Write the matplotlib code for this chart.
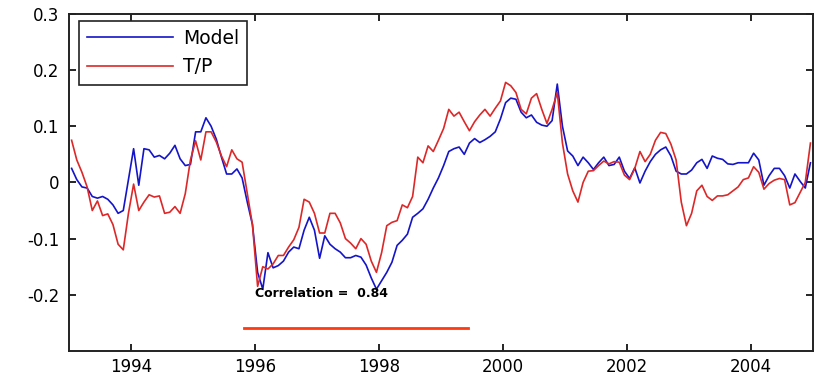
import matplotlib
matplotlib.use("Agg")
import matplotlib.pyplot as plt
import numpy as np

plt.rcParams['font.family'] = ['DejaVu Sans']

# monthly time axis (mid-month), Jan 1993 .. Dec 2004
months = np.arange(144)
time = 1993 + (months + 0.5) / 12.0

model = [
    0.025, 0.005, -0.008, -0.010, -0.025, -0.028, -0.025, -0.030, -0.040, -0.055,
    -0.050, 0.005, 0.060, -0.005, 0.060, 0.058, 0.045, 0.048, 0.042, 0.052,
    0.066, 0.042, 0.030, 0.032, 0.090, 0.090, 0.115, 0.100, 0.077, 0.045,
    0.015, 0.015, 0.024, 0.008, -0.035, -0.075, -0.160, -0.190, -0.125, -0.152,
    -0.148, -0.140, -0.124, -0.115, -0.118, -0.085, -0.062, -0.085, -0.135, -0.095,
    -0.110, -0.118, -0.124, -0.134, -0.134, -0.130, -0.133, -0.147, -0.170, -0.190,
    -0.175, -0.160, -0.142, -0.112, -0.103, -0.092, -0.062, -0.055, -0.047, -0.030,
    -0.010, 0.008, 0.030, 0.055, 0.060, 0.063, 0.050, 0.070, 0.078, 0.071,
    0.076, 0.082, 0.090, 0.113, 0.142, 0.150, 0.148, 0.125, 0.115, 0.120,
    0.107, 0.102, 0.100, 0.110, 0.175, 0.100, 0.056, 0.047, 0.030, 0.045,
    0.035, 0.023, 0.035, 0.045, 0.030, 0.032, 0.045, 0.020, 0.007, 0.026,
    -0.001, 0.020, 0.037, 0.050, 0.058, 0.063, 0.047, 0.020, 0.015, 0.015,
    0.022, 0.035, 0.041, 0.025, 0.047, 0.043, 0.041, 0.033, 0.032, 0.035,
    0.035, 0.035, 0.052, 0.040, -0.005, 0.012, 0.025, 0.025, 0.012, -0.010,
    0.015, 0.002, -0.010, 0.035,
]

tp = [
    0.075, 0.040, 0.018, -0.008, -0.050, -0.033, -0.059, -0.056, -0.075, -0.110,
    -0.120, -0.055, -0.003, -0.050, -0.035, -0.022, -0.026, -0.024, -0.055, -0.053,
    -0.043, -0.055, -0.020, 0.040, 0.074, 0.040, 0.090, 0.090, 0.072, 0.047,
    0.028, 0.058, 0.042, 0.036, -0.020, -0.075, -0.185, -0.150, -0.154, -0.145,
    -0.130, -0.130, -0.115, -0.102, -0.080, -0.030, -0.035, -0.055, -0.090, -0.090,
    -0.055, -0.055, -0.072, -0.100, -0.108, -0.118, -0.100, -0.110, -0.140, -0.160,
    -0.125, -0.077, -0.071, -0.068, -0.040, -0.045, -0.025, 0.045, 0.035, 0.065,
    0.055, 0.075, 0.096, 0.130, 0.118, 0.125, 0.108, 0.092, 0.108, 0.120,
    0.130, 0.118, 0.132, 0.145, 0.178, 0.172, 0.160, 0.130, 0.122, 0.150,
    0.158, 0.130, 0.105, 0.130, 0.160, 0.070, 0.015, -0.015, -0.035, 0.000,
    0.020, 0.021, 0.030, 0.038, 0.033, 0.037, 0.036, 0.013, 0.005, 0.025,
    0.055, 0.037, 0.050, 0.075, 0.089, 0.087, 0.068, 0.040, -0.035, -0.077,
    -0.055, -0.015, -0.005, -0.025, -0.032, -0.024, -0.024, -0.022, -0.015, -0.008,
    0.005, 0.008, 0.028, 0.018, -0.012, -0.002, 0.004, 0.007, 0.005, -0.040,
    -0.036, -0.018, 0.000, 0.070,
]

xticks = [1994, 1996, 1998, 2000, 2002, 2004]
yticks = [-0.2, -0.1, 0, 0.1, 0.2, 0.3]
ytick_labels = ['-0.2', '-0.1', '0', '0.1', '0.2', '0.3']

corr_text = 'Correlation =  0.84'
corr_pos = (1996.0, -0.198)
bar_x = [1995.82, 1999.44]
bar_y = [-0.259, -0.259]

fig = plt.figure(figsize=(8.14, 3.78), dpi=100)
ax = fig.add_axes([0.0848, 0.0714, 0.914, 0.892])

l1, = ax.plot(time, model, color='#1414c8', lw=1.2, label='Model')
l2, = ax.plot(time, tp, color='#dc2828', lw=1.2, label='T/P')

ax.plot(bar_x, bar_y, color='#ff3a10', lw=2)
ax.text(corr_pos[0], corr_pos[1], corr_text, fontsize=9, fontweight='bold',
        ha='left', va='center', color='black')

ax.set_xlim(1993, 2005)
ax.set_ylim(-0.3, 0.3)
ax.set_xticks(xticks)
ax.set_xticklabels([str(v) for v in xticks])
ax.set_yticks(yticks)
ax.set_yticklabels(ytick_labels)
ax.tick_params(direction='in', length=5, width=1.2, top=True, right=True,
               labelsize=12, colors='black')
ax.tick_params(axis='x', pad=5)
ax.tick_params(axis='y', pad=7)
for s in ax.spines.values():
    s.set_linewidth(1.4)
    s.set_color('#222222')

leg = ax.legend(handles=[l1, l2], loc='upper left', bbox_to_anchor=(0.013, 0.98),
                fontsize=13.5, handlelength=4.6, fancybox=False, framealpha=1,
                edgecolor='#222222', borderpad=0.45, labelspacing=0.5,
                handletextpad=0.5, borderaxespad=0.0)
leg.get_frame().set_linewidth(1.2)

fig.savefig('out.png', dpi=100)
